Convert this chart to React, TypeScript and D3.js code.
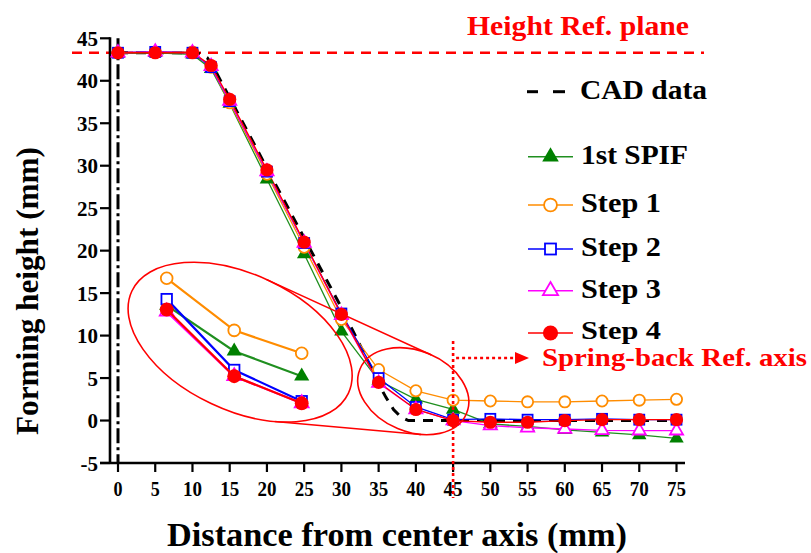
import React from "react";
import * as d3 from "d3";

// ---------- data ----------
const distances = [0, 5, 10, 12.5, 15, 20, 25, 30, 35, 40, 45, 50, 55, 60, 65, 70, 75];
const firstSpif = [43.2, 43.3, 43.1, 41.4, 37.3, 28.4, 19.6, 10.5, 4.7, 2.5, 1.3, -0.4, -0.7, -1.1, -1.4, -1.7, -2.1];
const step1 = [43.3, 43.4, 43.4, 41.6, 37.4, 29.0, 20.4, 11.9, 6.0, 3.5, 2.4, 2.3, 2.2, 2.2, 2.3, 2.4, 2.5];
const step2 = [43.3, 43.4, 43.3, 41.6, 37.6, 29.3, 20.9, 12.6, 5.0, 1.6, 0.1, 0.2, 0.1, 0.1, 0.2, 0.1, 0.1];
const step3 = [43.3, 43.4, 43.3, 41.7, 37.6, 29.3, 20.9, 12.4, 4.4, 1.3, 0.0, -0.6, -0.85, -1.0, -1.15, -1.2, -1.2];
const step4 = [43.3, 43.3, 43.3, 41.8, 37.8, 29.5, 21.0, 12.5, 4.5, 1.3, 0.0, -0.2, -0.2, 0.0, 0.1, 0.1, 0.1];
const cadX = [0, 10, 11, 12, 13, 15, 20, 25, 30, 34, 35, 36, 37, 38, 39, 75];
const cadY = [43.3, 43.3, 43.2, 42.7, 41.3, 38.0, 29.7, 21.5, 13.3, 6.2, 4.3, 2.7, 1.3, 0.4, 0, 0];
const xTicks = [0, 5, 10, 15, 20, 25, 30, 35, 40, 45, 50, 55, 60, 65, 70, 75];
const yTicks = [-5, 0, 5, 10, 15, 20, 25, 30, 35, 40, 45];
const insetX = [35, 40, 45];
const heightRef = 43.3;
const springBackX = 45;

type Kind = "tri" | "circleOpen" | "square" | "triOpen" | "circle";
const series: { name: string; values: number[]; line: string; color: string; kind: Kind }[] = [
  { name: "1st SPIF", values: firstSpif, line: "#1f8f1f", color: "#008000", kind: "tri" },
  { name: "Step 1", values: step1, line: "#ff8c00", color: "#ff8c00", kind: "circleOpen" },
  { name: "Step 2", values: step2, line: "#0000ff", color: "#0000ff", kind: "square" },
  { name: "Step 3", values: step3, line: "#ff00ff", color: "#ff00ff", kind: "triOpen" },
  { name: "Step 4", values: step4, line: "#ff0000", color: "#ff0000", kind: "circle" },
];

const FONT = "'Liberation Serif', 'Times New Roman', serif";

function Marker({ kind, color, x, y, s = 1 }: { kind: Kind; color: string; x: number; y: number; s?: number }) {
  if (kind === "circle") return <circle cx={x} cy={y} r={6.6 * s} fill={color} />;
  if (kind === "circleOpen") return <circle cx={x} cy={y} r={5.6 * s} fill="#fff" stroke={color} strokeWidth={1.8} />;
  if (kind === "square") return <rect x={x - 5 * s} y={y - 5 * s} width={10 * s} height={10 * s} fill="#fff" stroke={color} strokeWidth={1.8} />;
  const p = d3.symbol(d3.symbolTriangle, (kind === "tri" ? 90 : 75) * s * s)()!;
  if (kind === "tri") return <path d={p} transform={`translate(${x},${y})`} fill={color} />;
  return <path d={p} transform={`translate(${x},${y})`} fill="#fff" stroke={color} strokeWidth={1.8} />;
}

type Ell = { cx: number; cy: number; a: number; b: number; th: number };
function support(e: Ell, nx: number, ny: number) {
  const t = (e.th * Math.PI) / 180;
  const ux = Math.cos(t), uy = Math.sin(t), vx = -Math.sin(t), vy = Math.cos(t);
  const nu = nx * ux + ny * uy, nv = nx * vx + ny * vy;
  const h = Math.sqrt(e.a * e.a * nu * nu + e.b * e.b * nv * nv);
  const px = e.cx + (e.a * e.a * nu * ux + e.b * e.b * nv * vx) / h;
  const py = e.cy + (e.a * e.a * nu * uy + e.b * e.b * nv * vy) / h;
  return { val: nx * e.cx + ny * e.cy + h, px, py };
}
function tangent(e1: Ell, e2: Ell, lo: number, hi: number) {
  const f = (al: number) => {
    const nx = Math.cos(al), ny = Math.sin(al);
    return support(e1, nx, ny).val - support(e2, nx, ny).val;
  };
  let a = (lo * Math.PI) / 180, b = (hi * Math.PI) / 180;
  let fa = f(a);
  for (let i = 0; i < 60; i++) {
    const m = (a + b) / 2;
    const fm = f(m);
    if (Math.sign(fm) === Math.sign(fa)) { a = m; fa = fm; } else b = m;
  }
  const nx = Math.cos(a), ny = Math.sin(a);
  const p1 = support(e1, nx, ny), p2 = support(e2, nx, ny);
  return [p1.px, p1.py, p2.px, p2.py];
}

export default function App() {
  const W = 811, H = 553;
  const x = d3.scaleLinear().domain([0, 75]).range([118, 676.5]);
  const y = d3.scaleLinear().domain([-5, 45]).range([463, 38.3]);
  const xi = d3.scaleLinear().domain([35, 45]).range([166.7, 301.7]);
  const yi = d3.scaleLinear().domain([0, 6]).range([403.3, 278.3]);

  const line = d3.line<[number, number]>().x((d) => x(d[0])).y((d) => y(d[1]));
  const lineI = d3.line<[number, number]>().x((d) => xi(d[0])).y((d) => yi(d[1]));

  const big: Ell = { cx: x(16.4), cy: y(9.23), a: 119.7, b: 67.9, th: 25.3 };
  const small: Ell = { cx: x(39.65), cy: y(3.45), a: 57.7, b: 40.5, th: 22.7 };
  const up = tangent(big, small, -110, -30);
  const dn = tangent(big, small, 80, 160);

  const legendY = [156.7, 205, 249, 290.7, 333];
  const legendW = [107, 80, 80, 80, 80];

  const insetIdx = insetX.map((v) => distances.indexOf(v));
  const insetOrder = [1, 0, 2, 3, 4];

  return (
    <svg width={W} height={H} style={{ position: "absolute", left: 0, top: 0, background: "#fff" }} fontFamily={FONT}>
      <rect width={W} height={H} fill="#fff" />
      {/* height reference plane */}
      <line x1={72} x2={704} y1={y(heightRef)} y2={y(heightRef)} stroke="#ff0000" strokeWidth={2.6} strokeDasharray="10,7" />
      <text x={467} y={35} fontSize={27} fontWeight="bold" fill="#ff0000" textLength={222} lengthAdjust="spacingAndGlyphs">Height Ref. plane</text>

      {/* axes */}
      <line x1={110} x2={110} y1={y(45) - 1} y2={y(-5)} stroke="#000" strokeWidth={2.6} />
      <line x1={100} x2={685} y1={y(-5)} y2={y(-5)} stroke="#000" strokeWidth={2.6} />
      {yTicks.map((t) => (
        <g key={"y" + t}>
          <line x1={100} x2={110} y1={y(t)} y2={y(t)} stroke="#000" strokeWidth={2.2} />
          <text x={98} y={y(t)} dy="0.36em" textAnchor="end" fontSize={21} fontWeight="bold">{t}</text>
        </g>
      ))}
      {xTicks.map((t) => (
        <g key={"x" + t}>
          <line x1={x(t)} x2={x(t)} y1={y(-5)} y2={y(-5) + 9} stroke="#000" strokeWidth={2.2} />
          <text x={x(t)} y={496} textAnchor="middle" fontSize={21} fontWeight="bold" textLength={t < 10 ? 9 : 19} lengthAdjust="spacingAndGlyphs">{t}</text>
        </g>
      ))}
      <text x={397} y={546} textAnchor="middle" fontSize={33} fontWeight="bold" textLength={460} lengthAdjust="spacingAndGlyphs">Distance from center axis (mm)</text>
      <text transform="translate(38,291) rotate(-90)" textAnchor="middle" fontSize={32} fontWeight="bold" textLength={288} lengthAdjust="spacingAndGlyphs">Forming height (mm)</text>

      {/* center axis dash-dot */}
      <line x1={x(0)} x2={x(0)} y1={y(45)} y2={y(-5)} stroke="#000" strokeWidth={3} strokeDasharray="15,4,3,4" />

      {/* CAD */}
      <path d={line(cadX.map((v, i) => [v, cadY[i]]))!} fill="none" stroke="#000" strokeWidth={3} strokeDasharray="10,8" />

      {/* series lines */}
      {series.map((s) => (
        <path key={s.name} d={line(distances.map((d, i) => [d, s.values[i]]))!} fill="none" stroke={s.line} strokeWidth={1.3} />
      ))}
      {series.map((s) => (
        <g key={s.name + "m"}>
          {distances.map((d, i) => (
            <Marker key={i} kind={s.kind} color={s.color} x={x(d)} y={y(s.values[i])} />
          ))}
        </g>
      ))}

      {/* ellipses and connectors */}
      <ellipse cx={big.cx} cy={big.cy} rx={big.a} ry={big.b} transform={`rotate(${big.th},${big.cx},${big.cy})`} fill="none" stroke="#ff0000" strokeWidth={1.6} />
      <ellipse cx={small.cx} cy={small.cy} rx={small.a} ry={small.b} transform={`rotate(${small.th},${small.cx},${small.cy})`} fill="none" stroke="#ff0000" strokeWidth={1.6} />
      <line x1={up[0]} y1={up[1]} x2={up[2]} y2={up[3]} stroke="#ff0000" strokeWidth={1.6} />
      <line x1={dn[0]} y1={dn[1]} x2={dn[2]} y2={dn[3]} stroke="#ff0000" strokeWidth={1.6} />

      {/* inset */}
      {insetOrder.map((k) => {
        const s = series[k];
        return (
          <g key={"in" + s.name}>
            <path d={lineI(insetIdx.map((j) => [distances[j], s.values[j]]))!} fill="none" stroke={s.line} strokeWidth={2.2} />
            {insetIdx.map((j) => (
              <Marker key={j} kind={s.kind} color={s.color} x={xi(distances[j])} y={yi(s.values[j])} s={1.05} />
            ))}
          </g>
        );
      })}

      {/* spring-back reference */}
      <line x1={x(springBackX)} x2={x(springBackX)} y1={341} y2={498} stroke="#ff0000" strokeWidth={2.6} strokeDasharray="3,3" />
      <line x1={x(springBackX) + 3} x2={517} y1={358} y2={358} stroke="#ff0000" strokeWidth={2.6} strokeDasharray="3,3" />
      <path d="M515,352 L529,358 L515,364 Z" fill="#ff0000" />
      <text x={542} y={366} fontSize={26} fontWeight="bold" fill="#ff0000" textLength={265} lengthAdjust="spacingAndGlyphs">Spring-back Ref. axis</text>

      {/* legend */}
      <line x1={527} x2={538} y1={91.7} y2={91.7} stroke="#000" strokeWidth={3} />
      <line x1={553} x2={565} y1={91.7} y2={91.7} stroke="#000" strokeWidth={3} />
      <text x={580} y={99} fontSize={27} fontWeight="bold" textLength={127} lengthAdjust="spacingAndGlyphs">CAD data</text>
      {series.map((s, i) => (
        <g key={"lg" + s.name}>
          <line x1={528} x2={573} y1={legendY[i]} y2={legendY[i]} stroke={s.line} strokeWidth={1.6} />
          <Marker kind={s.kind} color={s.color} x={550.5} y={legendY[i]} s={s.kind === "square" ? 1.1 : 1.15} />
          <text x={581} y={legendY[i] + (i === 4 ? 6 : 7)} fontSize={i === 4 ? 25 : 27} fontWeight="bold" textLength={legendW[i]} lengthAdjust="spacingAndGlyphs">{s.name}</text>
        </g>
      ))}
    </svg>
  );
}
